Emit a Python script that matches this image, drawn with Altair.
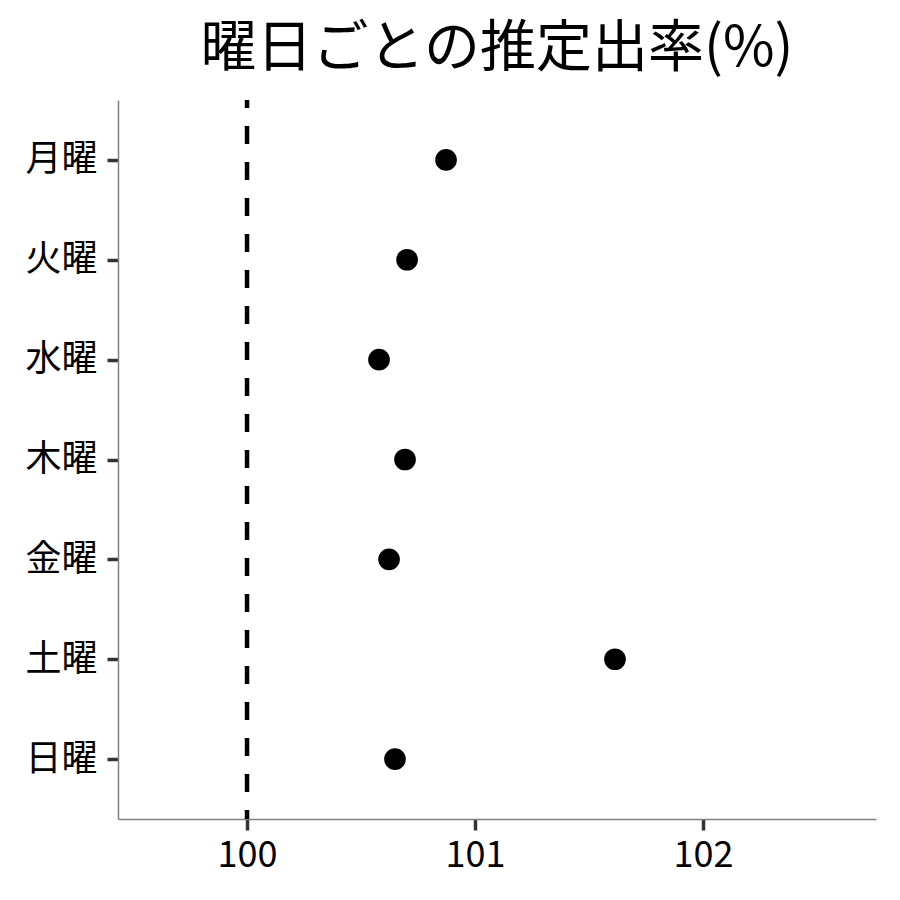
import altair as alt
import pandas as pd

days = ["月曜", "火曜", "水曜", "木曜", "金曜", "土曜", "日曜"]
rates = [100.873, 100.702, 100.579, 100.693, 100.623, 101.614, 100.649]
x_ticks = [100, 101, 102]
ref_value = [100]

df = pd.DataFrame({"day": days, "rate": rates})
ref = pd.DataFrame({"ref": ref_value})

FONT = "Noto Sans CJK JP"

x_scale = alt.Scale(domain=[99.434, 102.759], nice=False, zero=False)

rule = alt.Chart(ref).mark_rule(
    color="black", strokeWidth=4.5, strokeDash=[18, 18], strokeDashOffset=10
).encode(x=alt.X("ref:Q", scale=x_scale))

points = alt.Chart(df).mark_circle(size=470, color="black", opacity=1).encode(
    x=alt.X(
        "rate:Q",
        scale=x_scale,
        axis=alt.Axis(
            values=x_ticks, title=None, grid=False, labelFontSize=36,
            labelFont=FONT, labelColor="black", labelPadding=8,
            tickColor="#333333", tickWidth=3.5, tickSize=11,
            domainColor="#808080", domainWidth=1.5, format="d",
        ),
    ),
    y=alt.Y(
        "day:N",
        sort=days,
        scale=alt.Scale(type="point", padding=0.6),
        axis=alt.Axis(
            title=None, grid=False, labelFontSize=36, labelFont=FONT,
            labelColor="black", labelPadding=10,
            tickColor="#333333", tickWidth=3.5, tickSize=11,
            domainColor="#808080", domainWidth=1.5,
        ),
    ),
)

chart = (
    alt.layer(rule, points)
    .properties(
        width=758,
        height=719,
        title=alt.TitleParams(
            "曜日ごとの推定出率(%)", font=FONT, fontSize=56,
            fontWeight="normal", color="black", anchor="middle", offset=20,
        ),
        autosize=alt.AutoSizeParams(type="none"),
        padding={"left": 110, "top": 92, "right": 16, "bottom": 70},
    )
    .configure_view(stroke=None)
)

chart.save("out.html", embed_options={"renderer": "svg", "actions": False})
